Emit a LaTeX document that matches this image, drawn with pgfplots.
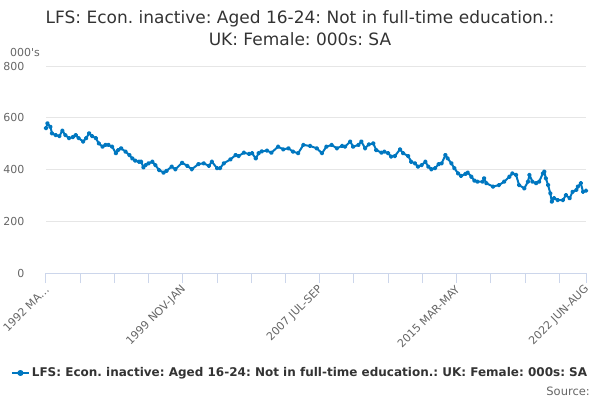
\documentclass[border=0pt]{standalone}
\usepackage{fontspec}
\setmainfont{DejaVu Sans}
\usepackage{pgfplots}
\pgfplotsset{compat=1.18}
\frenchspacing
\definecolor{series}{RGB}{0,119,192}
\definecolor{gridc}{RGB}{230,230,230}
\definecolor{axisc}{RGB}{204,214,235}
\definecolor{lab}{RGB}{102,102,102}
\definecolor{ttl}{RGB}{51,51,51}
\begin{document}
\begin{tikzpicture}[x=1pt,y=1pt]
\path[use as bounding box] (-46,-127) rectangle (554,273);
\node[align=center, text=ttl, font=\fontsize{17}{22}\selectfont] at (254,245) {LFS: Econ. inactive: Aged 16-24: Not in full-time education.:\\UK: Female: 000s: SA};
\node[anchor=west, text=lab, font=\fontsize{11}{13}\selectfont, inner sep=0pt] at (-36,221) {000\textquotesingle s};
\node[anchor=east, text=lab, font=\fontsize{11.5}{13}\selectfont, inner sep=0pt] at (544,-118) {Source:};
\begin{axis}[
  at={(0,0)}, anchor=south west,
  scale only axis, width=540pt, height=207pt,
  xmin=0, xmax=363, ymin=0, ymax=800,
  ytick={0,200,400,600,800},
  ymajorgrids, grid style={gridc, line width=0.8pt},
  axis x line*=bottom, axis y line*=left,
  y axis line style={draw=none},
  x axis line style={axisc, line width=1pt},
  ytick style={draw=none},
  xtick style={axisc, line width=1pt},
  tick align=outside, major tick length=10pt,
  xtick={0,23,46,69,92,115,138,161,184,207,230,253,276,299,322,345,363},
  xticklabels={1992 MA\ldots,,,,1999 NOV-JAN,,,,2007 JUL-SEP,,,,2015 MAR-MAY,,,,2022 JUN-AUG},
  xticklabel style={rotate=45, anchor=east, text=lab, font=\fontsize{11}{13}\selectfont, yshift=-4pt, xshift=1pt},
  yticklabel style={text=lab, font=\fontsize{11}{13}\selectfont, xshift=-8pt},
  /pgf/number format/assume math mode=true,
  legend style={at={(0.4704,-0.483)}, anchor=center, draw=none, fill=none,
    font=\bfseries\fontsize{12}{14}\selectfont, text=ttl},
  legend image code/.code={\draw[series, line width=2pt] (0pt,0pt) -- (17pt,0pt); \fill[series] (8.5pt,0pt) circle (2pt);},
]
\addplot[series, line width=2pt, mark=*, mark size=1.3pt, line join=round] coordinates {
(0,560) (1,578) (3,565) (4,540) (6.5,533) (9,529) (11,550) (13,533) (15.5,521) (18,525)
(20,533) (22,521) (25,508) (27,521) (29,540) (31,529) (33.5,521) (35.5,501) (38,488) (40,495)
(42,495) (44.5,488) (47,463) (48.5,475) (50.5,482) (53.5,469) (56,456) (58,443) (60,434) (62.5,430)
(64,430) (65.5,408) (67,417) (69,424) (71.5,430) (73.5,417) (76,398) (79,388) (81,395) (84.5,411)
(87,401) (91.5,426) (95,414) (98,401) (102.5,421) (106,424) (109.5,414) (111.5,430) (115,405) (117,405)
(119.5,424) (124,439) (127.5,456) (129.5,452) (133,465) (136.5,460) (138.5,463) (141,443) (143,463) (145,470)
(148.5,473) (151.5,465) (156,488) (159.5,478) (163,482) (166,469) (169.5,463) (173,495) (177.5,491) (182,482)
(185.5,463) (188.5,488) (192,495) (195.5,482) (199,491) (201,488) (204.5,508) (206.5,488) (210,495) (212,508)
(214.5,482) (217,497) (220,501) (222,475) (225.5,465) (227.5,469) (230,463) (232,450) (234.5,452) (238,478)
(240,463) (243.5,452) (245.5,430) (248,424) (250,411) (252.5,417) (255,430) (257,411) (259,401) (261.5,405)
(264,421) (266,424) (268.5,456) (270,443) (272.5,424) (274.5,405) (277,385) (279,375) (282,383) (283.5,388)
(286,372) (288,357) (290,353) (293.5,353) (294.5,366) (296,347) (300.5,334) (304.5,340) (308,353) (311.5,372)
(313.5,385) (316,379) (318,340) (321.5,327) (324,353) (325,379) (327,353) (329.5,347) (331.5,353) (334,385)
(335,392) (336,366) (337.5,340) (339,308) (340,276) (341.5,289) (344,282) (347.5,282) (349.5,301) (352,289)
(354,314) (356.5,321) (357.5,334) (359.5,347) (361,314) (363,318)
};
\addlegendentry{LFS: Econ. inactive: Aged 16-24: Not in full-time education.: UK: Female: 000s: SA}
\end{axis}
\end{tikzpicture}
\end{document}
